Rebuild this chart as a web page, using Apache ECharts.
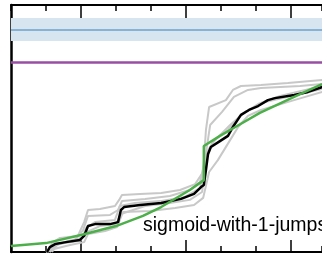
<!DOCTYPE html>
<html>
<head>
<meta charset="utf-8">
<script src="https://cdn.jsdelivr.net/npm/echarts@6/dist/echarts.min.js"></script>
<style>
  html, body { margin: 0; padding: 0; background: #fff; }
  #chart { width: 322px; height: 254px; }
</style>
</head>
<body>
<div id="chart"></div>
<script>
// x in tick units (minor tick = 1), y as fraction of the plot height
const X_MAX = 8.886
const MAJOR_TICKS = [2, 5, 8]

const bandRange = [0.854, 0.947]
const bandLine = 0.903
const purpleLine = 0.769

const fitCurve = [[0, .024], [1, .036], [2, .069], [3, .105], [3.77, .146], [4.29, .182], [5.11, .251], [5.51, .291],
    [5.51, .429], [5.97, .470], [6.46, .510], [7.11, .563], [8.09, .628], [8.89, .680]]

const meanRun = [[1.03, 0], [1.11, .020], [1.26, .032], [1.57, .040], [1.97, .049], [2.09, .065], [2.20, .105], [2.40, .113],
    [2.83, .113], [3.06, .121], [3.14, .170], [3.23, .182], [3.69, .190], [4.29, .198], [4.86, .215], [5.23, .235],
    [5.43, .263], [5.51, .271], [5.57, .332], [5.63, .397], [5.71, .425], [5.97, .449], [6.20, .470], [6.34, .506],
    [6.57, .555], [6.80, .575], [7.06, .591], [7.34, .615], [7.54, .623], [8.09, .636], [8.49, .648], [8.89, .668]]

const run1 = [[1.06, 0], [1.17, .036], [1.40, .057], [1.91, .065], [2.09, .121], [2.20, .170], [2.54, .174], [2.97, .186],
    [3.09, .211], [3.17, .231], [3.69, .235], [4.29, .239], [4.83, .251], [5.26, .275], [5.49, .324], [5.57, .494],
    [5.66, .587], [6.14, .615], [6.34, .656], [6.57, .672], [7.14, .676], [7.91, .684], [8.89, .696]]
const run2 = [[1.11, 0], [1.29, .028], [1.83, .049], [2.06, .089], [2.20, .146], [2.83, .150], [3.06, .170], [3.17, .206],
    [3.83, .215], [4.54, .227], [5.11, .251], [5.40, .283], [5.54, .372], [5.69, .514], [6.03, .567], [6.37, .628],
    [6.77, .656], [7.14, .664], [8.26, .672], [8.89, .680]]
const run3 = [[1.00, 0], [1.11, .008], [1.69, .028], [2.09, .040], [2.20, .073], [2.69, .085], [3.03, .101], [3.20, .162],
    [3.97, .166], [4.69, .178], [5.23, .190], [5.49, .219], [5.66, .324], [5.91, .372], [6.26, .453], [6.49, .506],
    [6.77, .551], [7.14, .575], [8.09, .615], [8.89, .648]]
const run4 = [[1.06, 0], [1.20, .024], [1.63, .045], [2.03, .057], [2.14, .097], [2.40, .121], [2.97, .130], [3.11, .186],
    [3.54, .198], [4.26, .206], [4.97, .223], [5.40, .259], [5.54, .340], [5.63, .413], [5.83, .453], [6.26, .514],
    [6.69, .567], [7.26, .607], [8.26, .640], [8.89, .660]]
const run5 = [[1.17, 0], [1.34, .032], [1.97, .045], [2.17, .081], [2.54, .105], [3.00, .113], [3.14, .154], [3.83, .186],
    [4.54, .198], [5.11, .211], [5.46, .243], [5.60, .381], [5.77, .449], [6.20, .494], [6.54, .551], [7.06, .599],
    [7.69, .632], [8.89, .672]]
const grayRuns = [run1, run2, run3, run4, run5]

const label = 'sigmoid-with-1-jumps'

const chart = echarts.init(document.getElementById('chart'), null, { renderer: 'canvas' })

function xAxisOf(position, len, major, showLine) {
    const axis = {
        type: 'value',
        position: position,
        min: 0,
        max: X_MAX,
        interval: 1,
        axisLine: { show: showLine, onZero: false, lineStyle: { color: '#000', width: 2 } },
        axisTick: { show: true, inside: true, length: len, lineStyle: { color: '#000', width: 1.5 } },
        axisLabel: { show: false },
        splitLine: { show: false }
    }
    if (major) axis.axisTick.customValues = MAJOR_TICKS
    return axis
}

const series = grayRuns.map((run) => ({
    type: 'line',
    data: run,
    symbol: 'none',
    lineStyle: { color: '#c8c8c8', width: 2 },
    z: 2
}))

// band + reference lines
series.unshift({
    type: 'line',
    data: [],
    markArea: {
        silent: true,
        itemStyle: { color: '#d7e5f1' },
        data: [[{ yAxis: bandRange[0] }, { yAxis: bandRange[1] }]]
    },
    markLine: {
        silent: true,
        symbol: 'none',
        label: { show: false },
        data: [
            { yAxis: bandLine, lineStyle: { color: '#6e9fcc', width: 1.5, type: 'solid' } },
            { yAxis: purpleLine, lineStyle: { color: '#984ea3', width: 2.5, type: 'solid' } }
        ]
    },
    z: 1
})

series.push({
    type: 'line',
    data: meanRun,
    symbol: 'none',
    lineStyle: { color: '#000', width: 2.5 },
    z: 3
})
series.push({
    type: 'line',
    data: fitCurve,
    symbol: 'none',
    lineStyle: { color: '#4daf4a', width: 2.5 },
    z: 4
})

chart.setOption({
    animation: false,
    backgroundColor: '#fff',
    grid: { left: 11, right: 0, top: 5, bottom: 2, containLabel: false, outerBoundsMode: 'none' },
    xAxis: [
        xAxisOf('bottom', 6, false, true),
        xAxisOf('bottom', 12, true, false),
        xAxisOf('top', 6, false, true),
        xAxisOf('top', 13, true, false)
    ],
    yAxis: {
        type: 'value',
        min: 0,
        max: 1,
        axisLine: { show: true, onZero: false, lineStyle: { color: '#000', width: 2.5 } },
        axisTick: { show: false },
        axisLabel: { show: false },
        splitLine: { show: false }
    },
    graphic: [{
        type: 'text',
        left: 143,
        top: 216,
        z: 10,
        style: { text: label, font: '19.5px "Liberation Sans", Arial, sans-serif', fill: '#000' }
    }],
    series: series
})
</script>
</body>
</html>
